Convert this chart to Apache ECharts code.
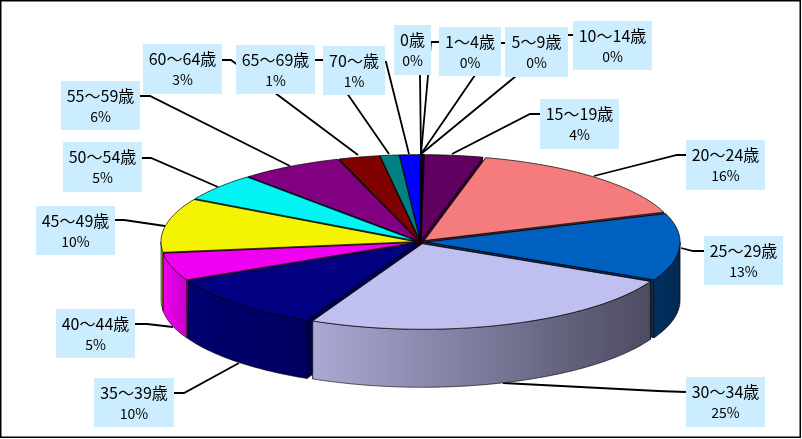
<!DOCTYPE html>
<html><head><meta charset="utf-8">
<style>html,body{margin:0;padding:0;background:#fff}#c{width:802px;height:439px}</style>
<script src="https://cdn.jsdelivr.net/npm/echarts@6/dist/echarts.min.js"></script>
</head><body><div id="c"></div>
<script>
// --- data ---
const categories = ['0歳','1～4歳','5～9歳','10～14歳','15～19歳','20～24歳','25～29歳','30～34歳','35～39歳','40～44歳','45～49歳','50～54歳','55～59歳','60～64歳','65～69歳','70～歳'];
const shareValues = [0.05,0.05,0.05,0.05,3.7,15.7,12.65,24.85,10.7,5.2,10.2,5.2,6.5,2.6,1.2,1.3];
const percentLabels = ['0%','0%','0%','0%','4%','16%','13%','25%','10%','5%','10%','5%','6%','3%','1%','1%'];
// --- styles ---
const topColors = ['#800000','#008080','#0000ff','#5a0060','#600060','#f47c7c','#0060c0','#c0c0f0','#000080','#f000f0','#f4f400','#00f4f4','#800080','#800000','#008080','#0000ff'];
const wallColors = [
  ['#500000','#500000'],['#004040','#004040'],['#000080','#000080'],['#300030','#300030'],['#300030','#300030'],
  ['#7a3e3e','#7a3e3e'],['#003060','#002850'],['#aaa9d4','#4c4b60'],['#000070','#000060'],['#f000f0','#c800c8'],
  ['#c4c400','#c4c400'],['#008080','#008080'],['#400040','#400040'],['#400000','#400000'],['#004040','#004040'],['#000080','#000080']];
const cutColors = ['#400000','#004040','#000060','#300030','#300030','#6a2e2e','#002c5c','#55556c','#000050','#a000a0','#8a8a00','#006060','#400040','#400000','#004040','#000060'];
// --- layout: label boxes [x,y,w,h] and leader lines ---
const labelBoxes = [[394,25,37,50],[439,27,62,49],[505,27,63,50],[573,21,79,49],[540,99,79,50],[686,140,79,50],[704,236,79,49],[686,377,79,50],[94,378,80,49],[56,309,79,49],[36,206,79,49],[63,142,79,50],[61,81,79,49],[143,44,79,50],[236,45,79,49],[323,46,62,49]];
const leaderLines = [
  [[420,75],[421,154]],
  [[439,42],[431,42],[421,154]],
  [[505,43],[497,43],[421,154]],
  [[573,35],[566,35],[421,154]],
  [[540,114],[530,114],[452,154]],
  [[686,155],[677,155],[594,176]],
  [[704,251],[693,251],[681,248]],
  [[686,392],[658,391],[503,383]],
  [[174,393],[184,393],[239,363]],
  [[135,324],[147,324],[173,327]],
  [[115,220],[124,220],[165,226]],
  [[142,158],[151,158],[218,187]],
  [[140,96],[150,96],[290,166]],
  [[222,60],[231,60],[358,155]],
  [[315,60],[324,60],[389,154]],
  [[385,62],[386,62],[409,154]]];

const CX=420.5, CY=242, RX=254, RY=85.5, DEPTH=58, EXPLODE=0.022;
const FONT='"Noto Sans CJK JP"';
const total = shareValues.reduce((a,b)=>a+b,0);
const startAngles=[]; { let acc=0; shareValues.forEach(v=>{startAngles.push(acc/total*360);acc+=v;}); }
const rad=d=>d*Math.PI/180;

function renderSlice(params, api){
  const i=params.dataIndex, share=api.value(1);
  const a0=startAngles[i], a1=a0+share/total*360, mid=(a0+a1)/2;
  const ox=CX+EXPLODE*RX*Math.sin(rad(mid)), oy=CY-EXPLODE*RY*Math.cos(rad(mid));
  const pt=(t,dy)=>[ox+RX*Math.sin(rad(t)), oy-RY*Math.cos(rad(t))+(dy||0)];
  const arc=(s,e,dy)=>{const n=Math.max(1,Math.ceil((e-s)/1)),o=[];for(let k=0;k<=n;k++)o.push(pt(s+(e-s)*k/n,dy));return o;};
  const depth=1000-Math.round(Math.abs(mid-180)*2); // painter's order: back slices first
  const kids=[];
  const cut=(t)=>({type:'polygon',z2:depth,shape:{points:[[ox,oy],pt(t),pt(t,DEPTH),[ox,oy+DEPTH]]},style:{fill:cutColors[i],stroke:'#000',lineWidth:0.6}});
  kids.push(cut(a0),cut(a1));
  const s=Math.max(a0,90), e=Math.min(a1,270);
  if(e>s){
    kids.push({type:'polygon',z2:depth+1,shape:{points:arc(s,e,0).concat(arc(s,e,DEPTH).reverse())},
      style:{fill:new echarts.graphic.LinearGradient(0,0,1,0,[{offset:0,color:wallColors[i][0]},{offset:1,color:wallColors[i][1]}]),stroke:'#000',lineWidth:0.6}});
  }
  kids.push({type:'polygon',z2:depth+2,shape:{points:[[ox,oy]].concat(arc(a0,a1,0))},style:{fill:topColors[i],stroke:'#000',lineWidth:0.7}});
  return {type:'group',children:kids};
}
function renderLeader(params){
  return {type:'polyline',shape:{points:leaderLines[params.dataIndex]},style:{fill:null,stroke:'#000',lineWidth:1.8}};
}
function renderLabel(params){
  const i=params.dataIndex,[x,y,w,h]=labelBoxes[i];
  return {type:'group',children:[
    {type:'rect',shape:{x,y,width:w,height:h},style:{fill:'#ccecff'}},
    {type:'text',style:{text:categories[i],x:x+w/2,y:y+15,fill:'#000',fontFamily:FONT,fontSize:16,align:'center',verticalAlign:'middle'}},
    {type:'text',style:{text:percentLabels[i],x:x+w/2,y:y+36,fill:'#000',fontFamily:FONT,fontSize:14,align:'center',verticalAlign:'middle'}}
  ]};
}
const rows=shareValues.map((v,i)=>[i,v]);
const chart=echarts.init(document.getElementById('c'),null,{renderer:'canvas',width:802,height:439});
chart.setOption({
  animation:false,
  backgroundColor:'#fff',
  graphic:[{type:'rect',z:0,shape:{x:0.75,y:0.75,width:799.5,height:436.5},style:{fill:'#fff',stroke:'#000',lineWidth:1.5}}],
  series:[
    {type:'custom',coordinateSystem:'none',z:1,renderItem:renderLeader,data:rows,silent:true},
    {type:'custom',coordinateSystem:'none',z:2,renderItem:renderSlice,data:rows,silent:true},
    {type:'custom',coordinateSystem:'none',z:3,renderItem:renderLabel,data:rows,silent:true}
  ]
});
</script></body></html>
